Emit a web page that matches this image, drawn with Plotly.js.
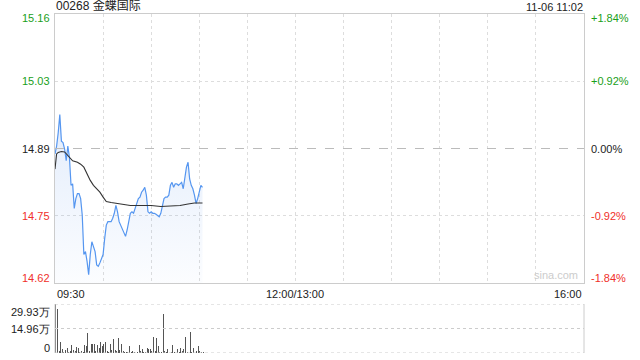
<!DOCTYPE html>
<html>
<head>
<meta charset="utf-8">
<script src="https://cdn.plot.ly/plotly-3.0.1.min.js"></script>
<style>html,body{margin:0;padding:0;background:#fff;}#chart{width:640px;height:360px;}</style>
</head>
<body>
<div id="chart"></div>
<script>
// ---- data ----
const stockTitle = "00268 金蝶国际";
const stampText = "11-06 11:02";
const prevClose = 14.89;
const maxPct = 0.0184;
const timeLabels = ["09:30", "12:00/13:00", "16:00"];
const timeLabelMinutes = [0, 150, 330];
const sessionMinutes = 330;

// per-minute price from 09:30 to 11:02
const prices = [14.879,14.895,14.922,14.959,14.905,14.902,14.889,14.865,14.895,14.872,
14.815,14.818,14.768,14.788,14.798,14.798,14.788,14.754,14.674,14.680,
14.660,14.633,14.674,14.700,14.690,14.680,14.653,14.650,14.657,14.664,
14.674,14.707,14.734,14.741,14.741,14.741,14.748,14.758,14.774,14.761,
14.741,14.734,14.727,14.721,14.711,14.724,14.744,14.758,14.761,14.758,
14.768,14.781,14.788,14.791,14.801,14.805,14.811,14.795,14.761,14.758,
14.761,14.758,14.758,14.756,14.754,14.751,14.758,14.774,14.788,14.791,
14.791,14.795,14.815,14.821,14.811,14.818,14.818,14.815,14.818,14.821,
14.808,14.828,14.852,14.862,14.828,14.815,14.808,14.795,14.778,14.788,
14.805,14.815,14.811];

// average price line (minute, value)
const avgMinutes = [0,1,2,4,6,7,9,11,14,16,18,20,22,24,26,28,30,32,35,39,43,47,53,60,66,72,78,83,87,92];
const avgPrices = [14.848,14.879,14.882,14.884,14.883,14.879,14.872,14.865,14.862,14.858,
14.852,14.838,14.825,14.815,14.808,14.801,14.791,14.782,14.780,14.778,
14.776,14.774,14.774,14.774,14.772,14.773,14.774,14.777,14.779,14.779];

// per-minute volume, in 万 shares
const volumes = [29.9,26.8,1.0,6.7,2.5,0.8,1.7,3.0,0.5,1.0,
4.6,2.0,1.0,3.7,3.0,0.6,1.0,0.4,4.6,4.2,
12.5,1.5,5.8,5.2,5.8,1.0,4.6,3.0,6.7,4.2,
5.8,6.7,1.0,0.4,5.2,2.0,8.3,2.0,1.0,9.4,
2.0,5.2,1.0,0.5,0.8,0.5,4.3,0.8,1.5,0.5,
0.2,0.8,5.1,1.5,2.6,0.5,0.8,3.3,2.6,2.6,
1.0,9.8,1.5,9.2,4.3,0.5,0.5,24.0,1.5,0.8,
2.6,0.2,0.5,5.1,0.5,0.2,2.6,0.8,3.0,1.5,
2.2,9.8,0.5,0.2,12.8,0.5,3.0,0.2,1.5,4.3,
1.5,0.5,0.8];
const volMax = 29.93;

// ---- chart ----
const minutes = prices.map((_, i) => i);
const yMin = prevClose * (1 - maxPct);
const yMax = prevClose * (1 + maxPct);
const yMid1 = prevClose * (1 + maxPct / 2);
const yMid2 = prevClose * (1 - maxPct / 2);

const green = "#1aa01a";
const red = "#f0302a";
const font = "Liberation Sans, Arial, sans-serif";
const cjk = "Liberation Sans, Noto Sans CJK SC, sans-serif";

const traces = [
  {
    x: minutes, y: prices, type: "scatter", mode: "lines",
    line: {color: "#5596f0", width: 1.2},
    fill: "tozeroy",
    fillgradient: {type: "vertical", start: yMin, stop: 14.96,
      colorscale: [[0, "rgba(80,140,235,0.02)"], [1, "rgba(80,140,235,0.16)"]]},
    xaxis: "x", yaxis: "y", hoverinfo: "skip"
  },
  {
    x: avgMinutes, y: avgPrices, type: "scatter", mode: "lines",
    line: {color: "#333333", width: 1.1},
    xaxis: "x", yaxis: "y", hoverinfo: "skip"
  },
  {
    x: minutes, y: volumes.map(v => v * 10000), type: "bar",
    marker: {color: "#555555", line: {width: 0}},
    width: 0.62, xaxis: "x2", yaxis: "y2", hoverinfo: "skip"
  }
];

const gridVals = [];
for (let m = 30; m < sessionMinutes; m += 30) gridVals.push(m);

const mainBottom = (353 - 283) / 339;
const volTop = (353 - 304) / 339;

const ann = [];
function addLabel(txt, xp, anchor, shift, yval, yref, color, yshift) {
  ann.push({text: txt, xref: "paper", x: xp, xanchor: anchor, xshift: shift,
    yref: yref, y: yval, yanchor: "middle", yshift: yshift || 0, showarrow: false,
    font: {family: font, size: 11, color: color}});
}
const lv = [yMax, yMid1, prevClose, yMid2, yMin];
const pv = [maxPct, maxPct / 2, 0, -maxPct / 2, -maxPct];
const cols = [green, green, "#222222", red, red];
const ys = [-4, 0, 0, 0, 5];
lv.forEach((v, i) => {
  addLabel(v.toFixed(2), 0, "right", -3, v, "y", cols[i], ys[i]);
  const p = pv[i];
  const t = (p > 0 ? "+" : "") + (p * 100).toFixed(2) + "%";
  addLabel(t, 1, "left", 5, v, "y", cols[i], ys[i]);
});
// volume labels
addLabel(volMax.toFixed(2) + "万", 0, "right", -3, volMax * 10000, "y2", "#222222", -8);
addLabel((volMax / 2).toFixed(2) + "万", 0, "right", -3, volMax * 5000, "y2", "#222222", 0);
addLabel("0", 0, "right", -3, 0, "y2", "#222222", 5);
// time labels
const tAnch = ["left", "center", "right"];
timeLabels.forEach((t, i) => {
  ann.push({text: t, xref: "x", x: timeLabelMinutes[i], xanchor: tAnch[i],
    yref: "paper", y: mainBottom, yanchor: "top", yshift: -3, showarrow: false,
    font: {family: font, size: 11, color: "#222222"}});
});
// title and stamp
ann.push({text: stockTitle, xref: "paper", x: 0, xanchor: "left", xshift: -1,
  yref: "paper", y: 1, yanchor: "bottom", yshift: -1, showarrow: false,
  font: {family: cjk, size: 12, color: "#222222"}});
ann.push({text: stampText, xref: "paper", x: 1, xanchor: "right", xshift: 1,
  yref: "paper", y: 1, yanchor: "bottom", yshift: -1, showarrow: false,
  font: {family: font, size: 11, color: "#222222"}});
ann.push({text: "sina.com", xref: "paper", x: 1, xanchor: "right", xshift: -4,
  yref: "y", y: yMin, yanchor: "bottom", yshift: 0, showarrow: false,
  font: {family: font, size: 11, color: "#cccccc"}});

const shapes = [
  {type: "line", xref: "paper", x0: 0, x1: 1, yref: "y", y0: prevClose, y1: prevClose,
   line: {color: "#bbbbbb", width: 1, dash: "dash"}},
  {type: "line", xref: "paper", x0: 0, x1: 1, yref: "y2", y0: volMax * 5000, y1: volMax * 5000,
   line: {color: "#cccccc", width: 1, dash: "dot"}},
  {type: "line", xref: "paper", x0: 0, x1: 1, yref: "y2", y0: volMax * 10000, y1: volMax * 10000,
   line: {color: "#cccccc", width: 1, dash: "dot"}},
  {type: "line", xref: "paper", x0: 0, x1: 1, yref: "y2", y0: 0, y1: 0,
   line: {color: "#cccccc", width: 1, dash: "dot"}},
  {type: "line", xref: "paper", x0: 0, x1: 0, yref: "paper", y0: 0, y1: volTop,
   line: {color: "#cccccc", width: 1}},
  {type: "line", xref: "paper", x0: 1, x1: 1, yref: "paper", y0: 0, y1: volTop,
   line: {color: "#cccccc", width: 1}}
];

const layout = {
  width: 640, height: 360,
  margin: {l: 55, r: 56, t: 14, b: 7, pad: 0},
  paper_bgcolor: "#ffffff", plot_bgcolor: "#ffffff",
  showlegend: false,
  xaxis: {domain: [0, 1], range: [0, sessionMinutes], anchor: "y",
    tickvals: gridVals, showticklabels: false, ticks: "",
    showgrid: true, gridcolor: "#dddddd", griddash: "dot", gridwidth: 1,
    showline: true, mirror: true, linecolor: "#cccccc", linewidth: 1, zeroline: false,
    fixedrange: true},
  yaxis: {domain: [mainBottom, 1], range: [yMin, yMax], anchor: "x",
    tickvals: [yMid1, yMid2], showticklabels: false, ticks: "",
    showgrid: true, gridcolor: "#dddddd", griddash: "dot", gridwidth: 1,
    showline: true, mirror: true, linecolor: "#cccccc", linewidth: 1, zeroline: false,
    fixedrange: true},
  xaxis2: {domain: [0, 1], range: [-0.5, sessionMinutes], anchor: "y2",
    showticklabels: false, ticks: "", showgrid: false, showline: false, zeroline: false,
    fixedrange: true},
  yaxis2: {domain: [0, volTop], range: [0, volMax * 10000], anchor: "x2",
    showticklabels: false, ticks: "", showgrid: false, showline: false, zeroline: false,
    fixedrange: true},
  bargap: 0,
  annotations: ann,
  shapes: shapes
};

Plotly.newPlot("chart", traces, layout, {displayModeBar: false, staticPlot: true});
</script>
</body>
</html>
